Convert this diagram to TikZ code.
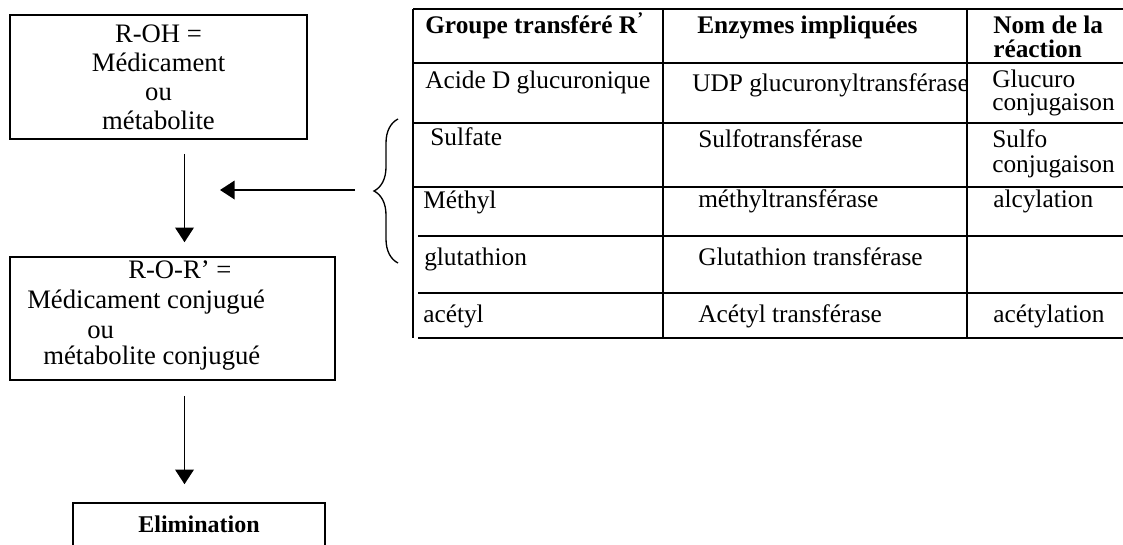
\documentclass[tikz,border=0pt]{standalone}
\usepackage{fontspec}
\setmainfont{Liberation Serif}
\usetikzlibrary{arrows.meta,decorations.pathreplacing}

\tikzset{
  boite/.style={draw, line width=1.2pt, inner sep=0pt},
  txt/.style={font=\fontsize{19}{21.75}\selectfont, inner sep=0pt, anchor=base west},
  gros/.style={txt, font=\fontsize{20}{21.75}\selectfont},
  entete/.style={txt, font=\fontsize{19}{21.75}\selectfont\bfseries},
  trait/.style={line width=1.2pt},
  fleche/.style={line width=1.2pt, -{Triangle[length=11pt,width=14pt]}}
}

\begin{document}
\begin{tikzpicture}[x=0.75pt,y=-0.75pt]
        \useasboundingbox (0,0) rectangle (1123,544);

        % Medicament
        \node[boite, minimum width=222.75pt, minimum height=93pt, align=center,
              font=\fontsize{20}{21.75}\selectfont] (medic) at (158.5,77)
              {R-OH =\\Médicament\\ou\\métabolite};

        % Conjugue
        \node[boite, minimum width=243.75pt, minimum height=92.25pt] (conj) at (172.5,318.5) {};
        \node[gros] (conj1) at (128,278) {R-O-R’ =};
        \node[gros] (conj2) at (27,308) {Médicament conjugué};
        \node[gros] (conj3) at (87,338) {ou};
        \node[gros] (conj4) at (43,364) {métabolite conjugué};

        % Elimination
        \node[boite, minimum width=189pt, minimum height=50.25pt] (elim) at (199,536.5) {};
        \node[entete, anchor=base, font=\fontsize{18}{21}\selectfont\bfseries] (elimtxt) at (199,532) {Elimination};

        % Fleches
        \draw[fleche] ([shift={(26,14)}]medic.south) -- ([shift={(12,-14)}]conj.north);
        \draw[fleche] ([shift={(12,15)}]conj.south) -- ([shift={(-14.5,-18)}]elim.north);
        \coordinate (depart) at (355,190);
        \coordinate (arrivee) at (220,190);
        \draw[fleche] (depart) -- (arrivee);

        % Accolade
        \coordinate (bhaut) at (398,119);
        \coordinate (bbas) at (398,263);
        \draw[line width=1pt, decorate, decoration={brace, amplitude=18pt}] (bbas) -- (bhaut);

        % Tableau
        \foreach \y in {9,63,123,187}
            \draw[trait] (413,\y) -- (1123,\y);
        \foreach \y in {236,293,338}
            \draw[trait] (418,\y) -- (1123,\y);
        \foreach \x in {413,663,967}
            \draw[trait] (\x,9) -- (\x,338);

        % En-tete
        \node[entete] (h1) at (425,33) {Groupe transféré R\textsuperscript{'}};
        \node[entete] (h2) at (697,33) {Enzymes impliquées};
        \node[entete] (h3) at (993,33) {Nom de la};
        \node[entete] (h3b) at (993,57) {réaction};

        % Lignes
        \node[txt] (a1) at (425,88) {Acide D glucuronique};
        \node[txt] (b1) at (692,91) {UDP glucuronyltransférase};
        \node[txt] (c1) at (992,87) {Glucuro};
        \node[txt] (c1b) at (992,110) {conjugaison};

        \node[txt] (a2) at (430,145) {Sulfate};
        \node[txt] (b2) at (698,147) {Sulfotransférase};
        \node[txt] (c2) at (992,147) {Sulfo};
        \node[txt] (c2b) at (992,172) {conjugaison};

        \node[txt] (a3) at (423,208) {Méthyl};
        \node[txt] (b3) at (698,207) {méthyltransférase};
        \node[txt] (c3) at (993,207) {alcylation};

        \node[txt] (a4) at (424,265) {glutathion};
        \node[txt] (b4) at (698,265) {Glutathion transférase};

        \node[txt] (a5) at (423,322) {acétyl};
        \node[txt] (b5) at (698,322) {Acétyl transférase};
        \node[txt] (c5) at (993,322) {acétylation};
    \end{tikzpicture}
\end{document}
